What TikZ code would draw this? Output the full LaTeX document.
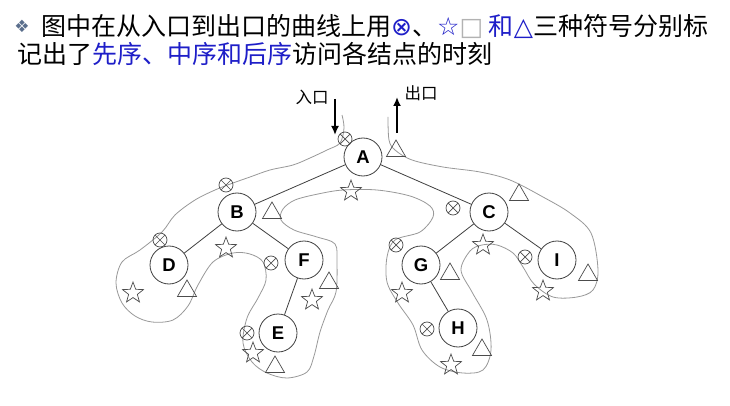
\documentclass[tikz,border=0pt]{standalone}
\usepackage{fontspec}
\setmainfont{Noto Sans CJK SC}
\newfontfamily\djsans{DejaVu Sans}
\newfontfamily\lsans{Liberation Sans}
\usetikzlibrary{shapes.geometric,arrows.meta}
\definecolor{tblue}{RGB}{30,30,200}
\definecolor{dia}{RGB}{90,110,140}
\begin{document}
\begin{tikzpicture}[x=1pt,y=-1pt,
  tn/.style={circle, draw=black!75, line width=0.8pt, minimum size=38pt, inner sep=0pt, font=\lsans\bfseries\fontsize{18.5}{18.5}\selectfont},
  ed/.style={draw=black!75, line width=0.8pt},
  pre/.style={circle, draw=black!70, line width=0.7pt, minimum size=14pt, inner sep=0pt,
    path picture={\draw[black!70, line width=0.7pt] (path picture bounding box.north west)--(path picture bounding box.south east) (path picture bounding box.north east)--(path picture bounding box.south west);}},
  ino/.style={star, star points=5, star point ratio=2.4, draw=black!70, line width=0.7pt, minimum size=22pt, inner sep=0pt},
  post/.style={regular polygon, regular polygon sides=3, draw=black!70, line width=0.7pt, minimum size=22pt, inner sep=0pt},
  contour/.style={draw=black!40, line width=0.8pt},
  arr/.style={draw=black, line width=2.4pt, -{Latex[length=9pt,width=8pt]}},
  title/.style={anchor=west, inner sep=0pt, font=\fontsize{25}{28}\selectfont},
  lab/.style={inner sep=0pt, font=\fontsize{16.5}{18}\selectfont}
]
\useasboundingbox[fill=white] (0,0) rectangle (730,406);

% title
\node[anchor=center, inner sep=0pt, text=dia, font=\djsans\fontsize{17}{17}\selectfont] (bul) at (22,26) {❖};
\node[title] (t1) at (41,26) {图中在从入口到出口的曲线上用{\color{tblue}\djsans ⊗}、{\color{tblue}\djsans ☆}{\color{black!30}\djsans □} {\color{tblue}和\djsans △}三种符号分别标};
\node[title] (t2) at (17,54) {记出了{\color{tblue}先序、中序和后序}访问各结点的时刻};

% contour
\draw[contour] plot[smooth, tension=0.55] coordinates {
 (342,115) (344,128) (340,143) (327,150) (310,158) (293,165) (270,170) (250,177) (233,183) (215,190) (195,200) (175,215) (162,232) (140,250) (122,262) (116,283) (122,303) (135,316) (152,322) (173,320) (188,306) (198,285) (213,262) (233,253) (250,254) (263,262) (266,280) (258,298) (247,318) (243,343) (252,362) (267,373) (287,378) (307,372) (314,356) (320,332) (328,310) (336,292) (337,263) (335,244) (317,237) (294,230) (281,220) (283,209) (295,200) (318,194) (343,190) (377,190) (410,196) (430,206) (433,217) (420,232) (395,240) (387,257) (387,282) (398,303) (413,325) (422,350) (440,367) (463,373) (483,370) (491,350) (487,320) (472,292) (461,270) (470,251) (482,245) (497,245) (513,253) (523,267) (534,284) (553,297) (577,297) (593,290) (598,270) (591,233) (570,213) (543,197) (510,180) (480,172) (443,167) (412,160) (395,150) (389,140) (388,117)};

% tree nodes
\node[tn] (A) at (363,157) {A};
\node[tn] (B) at (237,212) {B};
\node[tn] (C) at (489,212) {C};
\node[tn] (D) at (169,265) {D};
\node[tn] (F) at (304,260) {F};
\node[tn] (E) at (278,333) {E};
\node[tn] (G) at (421,265) {G};
\node[tn] (H) at (458,328) {H};
\node[tn] (I) at (557,260) {I};

\draw[ed] (A) -- (B);
\draw[ed] (A) -- (C);
\draw[ed] (B) -- (D);
\draw[ed] (B) -- (F);
\draw[ed] (F) -- (E);
\draw[ed] (C) -- (G);
\draw[ed] (C) -- (I);
\draw[ed] (G) -- (H);

% preorder marks
\node[pre] (pA) at (345,139) {};
\node[pre] (pB) at (226,185) {};
\node[pre] (pD) at (160,240) {};
\node[pre] (pF) at (271,263) {};
\node[pre] (pE) at (247,333) {};
\node[pre] (pC) at (453,208) {};
\node[pre] (pG) at (396,245) {};
\node[pre] (pH) at (427,329) {};
\node[pre] (pI) at (525,257) {};

% inorder marks
\node[ino] (iA) at (351,191) {};
\node[ino] (iB) at (226,248) {};
\node[ino] (iD) at (133,293) {};
\node[ino] (iF) at (312,300) {};
\node[ino] (iE) at (253,353) {};
\node[ino] (iC) at (483,245) {};
\node[ino] (iG) at (402,293) {};
\node[ino] (iH) at (451,365) {};
\node[ino] (iI) at (543,291) {};

% postorder marks
\node[post] (qA) at (396,151) {};
\node[post] (qB) at (272,213) {};
\node[post] (qD) at (187,291) {};
\node[post] (qF) at (329,283) {};
\node[post] (qE) at (275,367) {};
\node[post] (qC) at (519,195) {};
\node[post] (qG) at (450,274) {};
\node[post] (qH) at (482,350) {};
\node[post] (qI) at (588,275) {};

% entry / exit
\coordinate (in1) at (335,99);
\coordinate (in2) at (335,135);
\coordinate (out1) at (397,133);
\coordinate (out2) at (397,97);
\draw[arr] (in1) -- (in2);
\draw[arr] (out1) -- (out2);
\node[lab] (lin) at (312,97) {入口};
\node[lab] (lout) at (421,93) {出口};
\end{tikzpicture}
\end{document}
